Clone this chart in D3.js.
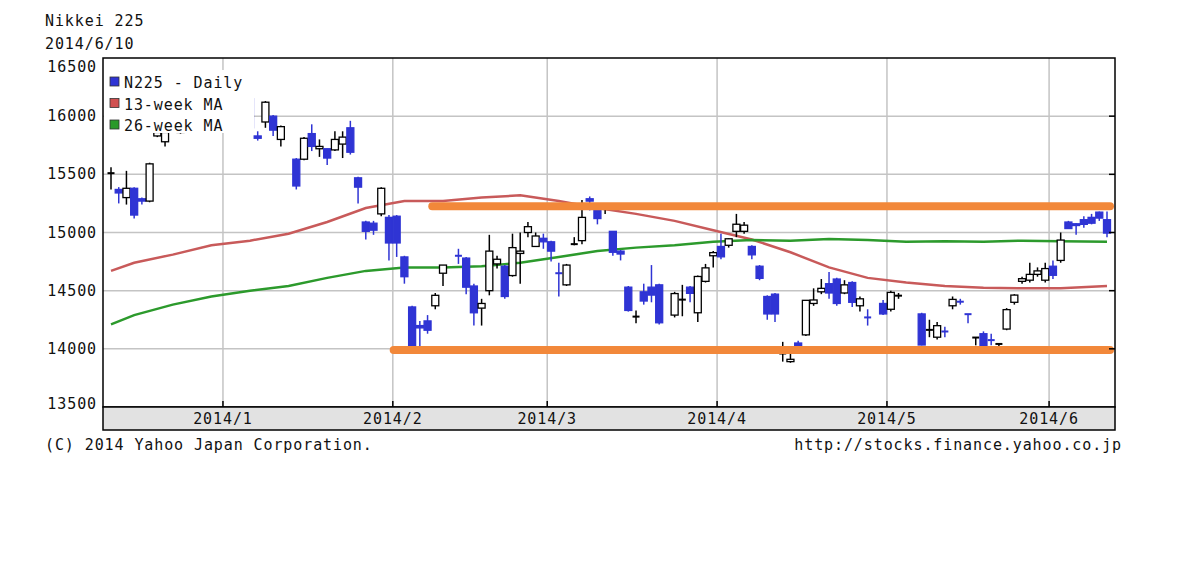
<!DOCTYPE html>
<html>
<head>
<meta charset="utf-8">
<script src="https://cdn.jsdelivr.net/npm/d3@7"></script>
<style>
  body { margin: 0; background: #fff; }
  svg text { font-family: "DejaVu Sans Mono", monospace; font-size: 15px; letter-spacing: 0.9px; fill: #111; }
</style>
</head>
<body>
<svg id="chart" width="1200" height="573"></svg>
<script>
// trading days, month by month
const dates = [
  "2013-12-11","2013-12-12","2013-12-13","2013-12-16","2013-12-17","2013-12-18","2013-12-19","2013-12-20","2013-12-24","2013-12-25","2013-12-26","2013-12-27","2013-12-30",
  "2014-01-06","2014-01-07","2014-01-08","2014-01-09","2014-01-10","2014-01-14","2014-01-15","2014-01-16","2014-01-17","2014-01-20","2014-01-21","2014-01-22","2014-01-23","2014-01-24","2014-01-27","2014-01-28","2014-01-29","2014-01-30","2014-01-31",
  "2014-02-03","2014-02-04","2014-02-05","2014-02-06","2014-02-07","2014-02-10","2014-02-12","2014-02-13","2014-02-14","2014-02-17","2014-02-18","2014-02-19","2014-02-20","2014-02-21","2014-02-24","2014-02-25","2014-02-26","2014-02-27","2014-02-28",
  "2014-03-03","2014-03-04","2014-03-05","2014-03-06","2014-03-07","2014-03-10","2014-03-11","2014-03-12","2014-03-13","2014-03-14","2014-03-17","2014-03-18","2014-03-19","2014-03-20","2014-03-24","2014-03-25","2014-03-26","2014-03-27","2014-03-28","2014-03-31",
  "2014-04-01","2014-04-02","2014-04-03","2014-04-04","2014-04-07","2014-04-08","2014-04-09","2014-04-10","2014-04-11","2014-04-14","2014-04-15","2014-04-16","2014-04-17","2014-04-18","2014-04-21","2014-04-22","2014-04-23","2014-04-24","2014-04-25","2014-04-28","2014-04-30",
  "2014-05-01","2014-05-02","2014-05-07","2014-05-08","2014-05-09","2014-05-12","2014-05-13","2014-05-14","2014-05-15","2014-05-16","2014-05-19","2014-05-20","2014-05-21","2014-05-22","2014-05-23","2014-05-26","2014-05-27","2014-05-28","2014-05-29","2014-05-30",
  "2014-06-02","2014-06-03","2014-06-04","2014-06-05","2014-06-06","2014-06-09","2014-06-10"
];
const opens = [
  15500,15370,15300,15380,15290,15270,15830,15780,15860,15900,16010,16190,16210,
  16150,15830,15950,16000,15800,15630,15630,15850,15720,15720,15710,15760,15900,15470,15090,15080,15160,15130,15140,
  14790,14360,14200,14240,14370,14650,14810,14780,14540,14350,14500,14730,14710,14630,14820,15000,14880,14950,14920,
  14660,14550,14900,14930,15290,15190,15200,15010,14840,14530,14270,14490,14530,14550,14290,14420,14530,14310,14580,14800,
  14880,14890,15010,15010,14880,14710,14450,14470,13960,13890,14050,14120,14390,14490,14560,14600,14480,14570,14370,14280,14390,
  14340,14457,14300,14150,14100,14160,14370,14410,14300,14090,14130,14080,14040,14170,14400,14580,14590,14640,14590,14710,
  14760,15090,15075,15110,15130,15175,15110
];
const highs = [
  15560,15390,15530,15390,15300,15600,15880,15880,15920,16020,16180,16240,16320,
  16170,15870,16130,16010,15920,15640,15820,15930,15800,15720,15870,15870,15960,15480,15100,15100,15390,15150,15150,
  14800,14370,14240,14290,14480,14720,14860,14790,14560,14430,14980,14800,14720,14990,15000,15090,15000,14990,14930,
  14740,14730,14960,15280,15310,15200,15240,15010,14850,14540,14330,14560,14720,14560,14490,14550,14540,14630,14730,14840,
  14990,14950,15160,15090,14890,14720,14460,14480,14060,14000,14070,14420,14520,14600,14660,14610,14590,14580,14450,14340,14420,
  14500,14480,14310,14250,14230,14190,14450,14430,14300,14100,14150,14130,14050,14350,14470,14620,14740,14700,14740,14760,
  15000,15100,15080,15140,15160,15180,15180
];
const lows = [
  15370,15250,15240,15120,15240,15260,15820,15740,15850,15890,16000,16130,16200,
  15860,15790,15900,15830,15740,15370,15620,15700,15650,15580,15700,15640,15670,15250,14940,14980,15140,14760,14790,
  14560,14000,14000,14130,14340,14540,14730,14470,14200,14200,14460,14690,14430,14620,14560,14960,14880,14860,14750,
  14450,14540,14890,14900,15190,15070,15160,14800,14760,14320,14220,14380,14400,14210,14270,14280,14400,14230,14570,14700,
  14770,14870,14960,14990,14770,14590,14250,14230,13890,13880,13980,14110,14370,14470,14430,14370,14470,14360,14320,14200,14290,
  14320,14430,14030,14100,14080,14100,14340,14380,14220,14030,14000,14030,13990,14160,14380,14560,14570,14620,14570,14600,
  14740,15030,14980,15040,15070,15100,14960
];
const closes = [
  15510,15340,15380,15150,15270,15590,15860,15860,15890,16010,16170,16180,16290,
  15900,15810,16120,15880,15910,15400,15810,15740,15740,15640,15800,15820,15690,15390,15010,15020,15380,14910,14910,
  14620,14010,14180,14160,14460,14720,14800,14530,14310,14390,14840,14770,14450,14870,14840,15050,14970,14920,14840,
  14650,14720,14900,15130,15270,15120,15224,14830,14815,14330,14277,14411,14462,14224,14475,14423,14477,14622,14696,14827,
  14791,14946,15071,15063,14808,14606,14300,14300,13960,13910,13996,14417,14420,14520,14480,14390,14550,14400,14430,14270,14300,
  14485,14457,14033,14163,14199,14149,14425,14405,14298,14097,14030,14075,14042,14337,14462,14603,14640,14670,14690,14632,
  14935,15034,15060,15070,15080,15124,14995
];

// moving averages, one value per week (Monday)
const maWeeks = ["2013-12-11","2013-12-16","2013-12-23","2013-12-30","2014-01-06","2014-01-13","2014-01-20","2014-01-27","2014-02-03","2014-02-10","2014-02-17","2014-02-24","2014-03-03","2014-03-10","2014-03-17","2014-03-24","2014-03-31","2014-04-07","2014-04-14","2014-04-21","2014-04-28","2014-05-05","2014-05-12","2014-05-19","2014-05-26","2014-06-02","2014-06-10"];
const ma13 = [14670,14740,14810,14890,14930,14990,15090,15210,15270,15270,15300,15320,15270,15210,15160,15100,15020,14940,14830,14700,14610,14570,14540,14525,14520,14520,14540];
const ma26 = [14210,14290,14380,14450,14500,14540,14610,14670,14700,14700,14710,14740,14790,14840,14870,14890,14920,14935,14930,14945,14935,14920,14925,14920,14930,14925,14920];

// hand-drawn support / resistance lines
const bands = [
  { level: 15225, from: "2014-02-07", to: "2014-06-10" },
  { level: 13990, from: "2014-01-31", to: "2014-06-10" }
];

const yTicks = [13500, 14000, 14500, 15000, 15500, 16000, 16500];
const monthTicks = ["2014-01-01", "2014-02-01", "2014-03-01", "2014-04-01", "2014-05-01", "2014-06-01"];
const monthLabels = ["2014/1", "2014/2", "2014/3", "2014/4", "2014/5", "2014/6"];

const parse = d3.timeParse("%Y-%m-%d");
const start = parse(dates[0]);
// weekday slot: every weekday gets a place, holidays stay empty
function slot(s) {
  const d = parse(s);
  let n = 0;
  const t = new Date(start);
  const sign = d >= start ? 1 : -1;
  while ((sign > 0 && t < d) || (sign < 0 && t > d)) {
    t.setDate(t.getDate() + sign);
    const w = t.getDay();
    if (w !== 0 && w !== 6) n += sign;
  }
  return n;
}

const L = 103, R = 1115, T = 58, B = 407;
const x = d3.scaleLinear().domain([0, 129]).range([111, 1107]);
const y = d3.scaleLinear().domain([13500, 16500]).range([B, T]);

const svg = d3.select("#chart");

svg.append("text").attr("x", 45).attr("y", 26).text("Nikkei 225");
svg.append("text").attr("x", 45).attr("y", 49).text("2014/6/10");

// grid
const grid = svg.append("g").attr("stroke", "#c4c4c4").attr("stroke-width", 1.5);
grid.selectAll(".h").data(yTicks.slice(1, -1)).join("line")
  .attr("x1", L).attr("x2", R).attr("y1", d => y(d)).attr("y2", d => y(d));
grid.selectAll(".v").data(monthTicks).join("line")
  .attr("x1", d => x(slot(d) - 0.5)).attr("x2", d => x(slot(d) - 0.5)).attr("y1", T).attr("y2", B);

// y labels, kept inside the frame height at both ends
svg.selectAll(".yl").data(yTicks).join("text")
  .attr("x", 97).attr("y", d => Math.min(Math.max(y(d) + 5, T + 14), B + 2))
  .attr("text-anchor", "end").text(d => d);

// moving averages
const maLine = d3.line().x(d => x(slot(d[0]))).y(d => y(d[1]));
svg.append("path").datum(maWeeks.map((d, i) => [d, ma13[i]]))
  .attr("d", maLine).attr("fill", "none").attr("stroke", "#c85a5a").attr("stroke-width", 2.5);
svg.append("path").datum(maWeeks.map((d, i) => [d, ma26[i]]))
  .attr("d", maLine).attr("fill", "none").attr("stroke", "#2c9a2c").attr("stroke-width", 2.5);

// candles
const blue = "#2f34d4";
const candles = svg.append("g");
dates.forEach((d, i) => {
  const cx = x(slot(d));
  const up = closes[i] >= opens[i];
  const flat = Math.abs(closes[i] - opens[i]) < 15;
  const col = up ? "#000" : blue;
  candles.append("line").attr("x1", cx).attr("x2", cx)
    .attr("y1", y(highs[i])).attr("y2", y(lows[i]))
    .attr("stroke", col).attr("stroke-width", 1.5);
  if (flat) {
    candles.append("line").attr("x1", cx - 3.5).attr("x2", cx + 3.5)
      .attr("y1", y(closes[i])).attr("y2", y(closes[i]))
      .attr("stroke", col).attr("stroke-width", 2);
  } else {
    const top = y(Math.max(opens[i], closes[i]));
    const h = Math.abs(y(opens[i]) - y(closes[i]));
    candles.append("rect").attr("x", cx - 3.5).attr("y", top).attr("width", 7).attr("height", h)
      .attr("fill", up ? "#fff" : blue).attr("stroke", col).attr("stroke-width", 1.3);
  }
});

// orange lines
svg.selectAll(".band").data(bands).join("line")
  .attr("x1", d => x(slot(d.from)) - 3).attr("x2", d => x(slot(d.to)) + 3)
  .attr("y1", d => y(d.level)).attr("y2", d => y(d.level))
  .attr("stroke", "#f2883a").attr("stroke-width", 8).attr("stroke-linecap", "round");

// legend
const legend = [
  { label: "N225 - Daily", color: blue },
  { label: "13-week MA", color: "#d05050" },
  { label: "26-week MA", color: "#2a9a2a" }
];
svg.append("rect").attr("x", L + 1).attr("y", 70).attr("width", 150).attr("height", 63).attr("fill", "#fff");
legend.forEach((d, i) => {
  const ly = 83 + i * 21.5;
  svg.append("rect").attr("x", 110).attr("y", ly - 6).attr("width", 9).attr("height", 9)
    .attr("fill", d.color).attr("stroke", "#333").attr("stroke-width", 0.8);
  svg.append("text").attr("x", 124).attr("y", ly + 5).text(d.label);
});

// plot frame
svg.append("rect").attr("x", L).attr("y", T).attr("width", R - L).attr("height", B - T)
  .attr("fill", "none").attr("stroke", "#000").attr("stroke-width", 1.5);
// right axis ticks
svg.selectAll(".rt").data(yTicks.slice(1, -1)).join("line")
  .attr("x1", R - 6).attr("x2", R).attr("y1", d => y(d)).attr("y2", d => y(d))
  .attr("stroke", "#000").attr("stroke-width", 1.5);

// x axis band
svg.append("rect").attr("x", L).attr("y", B).attr("width", R - L).attr("height", 23)
  .attr("fill", "#e2e2e2").attr("stroke", "#000").attr("stroke-width", 1.5);
svg.selectAll(".xt").data(monthTicks).join("line")
  .attr("x1", d => x(slot(d) - 0.5)).attr("x2", d => x(slot(d) - 0.5))
  .attr("y1", B - 6).attr("y2", B).attr("stroke", "#000").attr("stroke-width", 1.5);
svg.selectAll(".xl").data(monthTicks).join("text")
  .attr("x", d => x(slot(d) - 0.5)).attr("y", B + 17).attr("text-anchor", "middle")
  .text((d, i) => monthLabels[i]);

svg.append("text").attr("x", 45).attr("y", 450).text("(C) 2014 Yahoo Japan Corporation.");
svg.append("text").attr("x", 1122).attr("y", 450).attr("text-anchor", "end").text("http://stocks.finance.yahoo.co.jp");
</script>
</body>
</html>
